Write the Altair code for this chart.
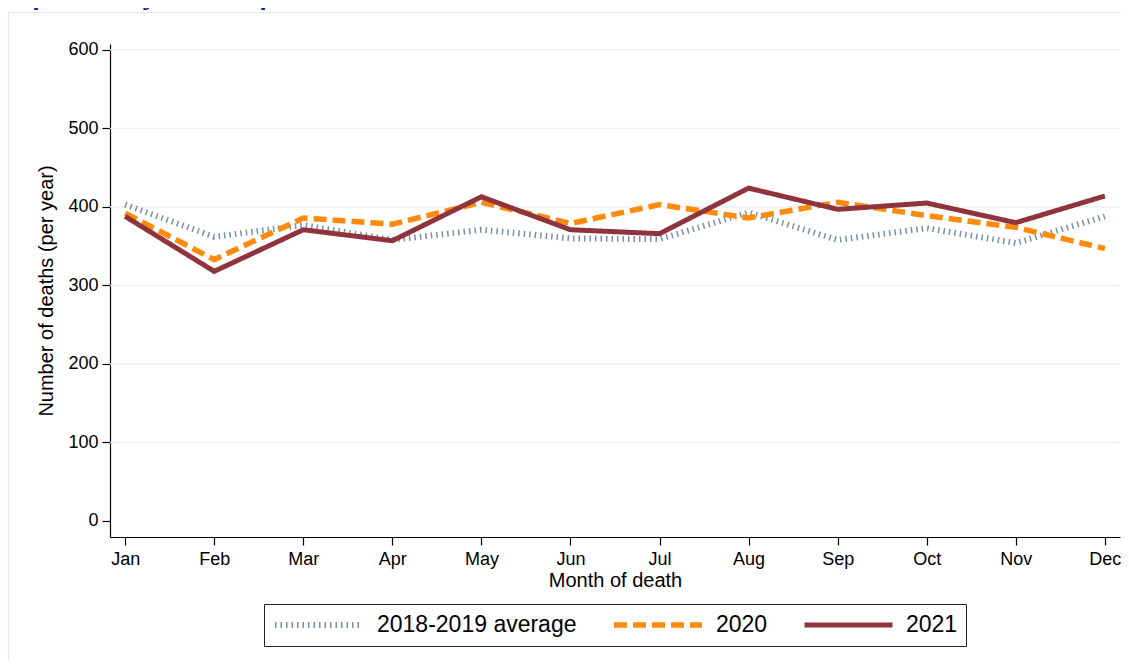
import altair as alt
import pandas as pd

months = ["Jan", "Feb", "Mar", "Apr", "May", "Jun", "Jul", "Aug", "Sep", "Oct", "Nov", "Dec"]
series_names = ["2018-2019 average", "2020", "2021"]
avg_1819 = [403, 362, 377, 358, 371, 360, 359, 393, 358, 373, 354, 388]
deaths_2020 = [392, 333, 386, 378, 406, 379, 403, 386, 406, 389, 374, 347]
deaths_2021 = [388, 318, 371, 357, 413, 371, 366, 424, 397, 405, 380, 414]
y_ticks = [0, 100, 200, 300, 400, 500, 600]
grid_values = [100, 200, 300, 400, 500, 600]

rows = []
for name, vals in zip(series_names, [avg_1819, deaths_2020, deaths_2021]):
    for i, (m, v) in enumerate(zip(months, vals)):
        rows.append({"series": name, "month": m, "mi": i, "deaths": v})
df = pd.DataFrame(rows)

FONT = "Liberation Sans"
colors = ["#7890aa", "#ff8a0d", "#8f343d"]
dashes = [[1.5, 4], [13, 6], [1, 0]]
widths = [6, 5, 5]

yscale = alt.Scale(domain=[-20.4, 607.6], nice=False, zero=False)
y_axis = alt.Axis(values=y_ticks, title="Number of deaths (per year)",
                  grid=False, domainColor="black", domainWidth=1.2,
                  tickColor="black", tickWidth=1.2, tickSize=8,
                  labelFont=FONT, labelFontSize=18, labelColor="black",
                  labelPadding=4, titleFont=FONT, titleFontSize=20,
                  titleFontWeight="normal", titleColor="black",
                  titlePadding=11)

frame = alt.Chart(alt.Data(values=[{}])).mark_rect(
    fill=None, stroke="#e3eaea", strokeWidth=1.2
).encode(
    x=alt.value(-101.5), x2=alt.value(1040),
    y=alt.value(-31.5), y2=alt.value(720)
)

title_txt = alt.Chart(alt.Data(values=[{}])).mark_text(
    align="left", baseline="alphabetic", font="Liberation Serif",
    fontStyle="italic", fontWeight="bold", fontSize=28, color="#141c86"
).encode(
    x=alt.value(-192), y=alt.value(-40),
    text=alt.value("Number of deaths by month of death")
)

grid = alt.Chart(pd.DataFrame({"deaths": grid_values})).mark_rule(
    color="#e8eff0", strokeWidth=1.5
).encode(
    y=alt.Y("deaths:Q", scale=yscale, axis=y_axis)
)

lines = alt.Chart(df).mark_line(strokeCap="butt", strokeJoin="miter").encode(
    x=alt.X("month:N", sort=months,
            scale=alt.Scale(type="point", padding=0.17),
            axis=alt.Axis(title="Month of death", labelAngle=0, grid=False,
                          domainColor="black", domainWidth=1.2,
                          tickColor="black", tickWidth=1.2, tickSize=8,
                          labelFont=FONT, labelFontSize=18, labelColor="black",
                          labelPadding=5, titleFont=FONT, titleFontSize=20,
                          titleFontWeight="normal", titleColor="black",
                          titlePadding=2)),
    y=alt.Y("deaths:Q", scale=yscale, axis=y_axis),
    color=alt.Color("series:N",
                    scale=alt.Scale(domain=series_names, range=colors),
                    legend=alt.Legend(orient="none", legendX=154, legendY=560,
                                      direction="horizontal", title=None,
                                      symbolType="stroke", symbolSize=7744,
                                      clipHeight=26, labelFont=FONT,
                                      labelFontSize=23, labelColor="black",
                                      labelLimit=400,
                                      labelOffset=11, columnPadding=34,
                                      padding=8, strokeColor="#222222",
                                      symbolOpacity=1)),
    strokeDash=alt.StrokeDash("series:N",
                              scale=alt.Scale(domain=series_names, range=dashes)),
    strokeWidth=alt.StrokeWidth("series:N",
                                scale=alt.Scale(domain=series_names, range=widths)),
    order=alt.Order("mi:Q"),
)

chart = alt.layer(frame, title_txt, grid, lines).properties(
    width=1010, height=493,
    autosize=alt.AutoSizeParams(type="none"),
    padding={"left": 102, "top": 36, "right": 1, "bottom": 124},
    background="white",
).configure_view(stroke=None)

chart.save("out.html", embed_options={"renderer": "svg", "actions": False})
